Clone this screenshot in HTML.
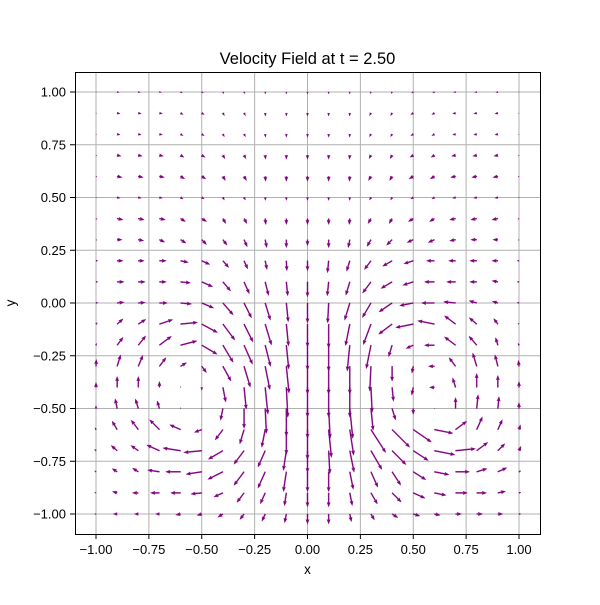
<!DOCTYPE html>
<html><head><meta charset="utf-8"><style>
body{margin:0;background:#fff;}
svg text{font-family:"Liberation Sans","DejaVu Sans",sans-serif;fill:#000;}
</style></head><body>
<svg id="chart" width="600" height="600" xmlns="http://www.w3.org/2000/svg">
<rect width="600" height="600" fill="#fff"/>
<text x="307.5" y="64" font-size="16.5" text-anchor="middle">Velocity Field at t = 2.50</text>
<g id="grid"></g>
<g id="arrows"></g>
<rect x="75.5" y="72.5" width="465" height="462" fill="none" stroke="#000" stroke-width="1"/>
<g id="ticks"></g>
<text x="307.5" y="574" font-size="13.5" text-anchor="middle">x</text>
<text x="15" y="303" font-size="13.5" text-anchor="middle" transform="rotate(-90 15 303)">y</text>
</svg>
<script>
// grid coordinates
const gridX = [-1,-0.9,-0.8,-0.7,-0.6,-0.5,-0.4,-0.3,-0.2,-0.1,0,0.1,0.2,0.3,0.4,0.5,0.6,0.7,0.8,0.9,1];
const gridY = [1,0.9,0.8,0.7,0.6,0.5,0.4,0.3,0.2,0.1,0,-0.1,-0.2,-0.3,-0.4,-0.5,-0.6,-0.7,-0.8,-0.9,-1];
const tickValues = [-1,-0.75,-0.5,-0.25,0,0.25,0.5,0.75,1];
const tickLabels = ["\u22121.00","\u22120.75","\u22120.50","\u22120.25","0.00","0.25","0.50","0.75","1.00"];
// velocity components (rows follow gridY, columns follow gridX); v positive = up
const velocityU = [
[0.4,2,2,2,1.7,1.7,1,1,0.2,0,0,0,-0.2,-1,-1,-1.7,-1.7,-2,-2,-2,-0.4],
[0.6,3,3,3,2.6,2.6,1.5,1.5,0.3,0,0,0,-0.3,-1.5,-1.5,-2.6,-2.6,-3,-3,-3,-0.6],
[0.6,3,3,3,2.6,2.6,1.5,1.5,0.3,0,0,0,-0.3,-1.5,-1.5,-2.6,-2.6,-3,-3,-3,-0.6],
[0.8,4,4,4,3.4,3.4,2,2,0.4,0,0,0,-0.4,-2,-2,-3.4,-3.4,-4,-4,-4,-0.8],
[1,5,5,5,4.2,4.2,2.5,2.5,0.5,0,0,0,-0.5,-2.5,-2.5,-4.2,-4.2,-5,-5,-5,-1],
[0.6,3,3,3,2.6,2.6,1.5,1.5,0.3,0,0,0,-0.3,-1.5,-1.5,-2.6,-2.6,-3,-3,-3,-0.6],
[1.2,6,6,6,5,5,3,3,0.6,0,0,0,-0.6,-3,-3,-5,-5,-6,-6,-6,-1.2],
[1,5,5.5,5.4,5.5,4.9,4.2,3.2,1.6,0,0,0,-1.6,-4,-5.6,-6.3,-6.3,-6,-6,-5,-1],
[2,6,6,7,7.8,8.2,5.9,3.7,1.8,0.5,0,-1.2,-3.2,-6.6,-9.5,-9.5,-8,-7,-7,-6,-2],
[2,7,7,7,10,11,7.8,5.3,3.4,1.4,0,-1.4,-4,-8.4,-11.2,-10.5,-10,-9,-7,-5.9,-2],
[2,7,7,8,11,12,10.4,7.5,5.2,1.9,0,-1,-5.2,-8.6,-13.2,-13.7,-13,-12,-7.7,-5.7,-2],
[1.5,6,7.6,13.4,17,15.9,12,8.9,6.3,2.2,0,0,-4.3,-7.7,-13.6,-17.6,-16.7,-11.2,-7.6,-4.2,-1],
[0.5,6,7.5,12,16.4,15.5,10.3,8.5,5.4,2.4,0,0,-2.6,-4.7,-3.5,-7.3,-10,-11.2,-7.8,-2.3,-1],
[0.3,3.5,4.6,6.6,6,4.8,8.2,6.3,4.7,2.7,0,0,0,-1.2,0,-1.4,-6,-6.6,-4,-2.9,-0.6],
[0,0,0,0,0,0,2.9,2.2,2.7,1.5,0,0,0,1.2,1.4,-1.6,-5,-2.9,0,0,0],
[0,-2,-2.9,-2.3,0,0,-2.4,0,1.2,0,0,1.5,3,2.2,3.5,0,0.5,0,1.4,1.2,0],
[-1,-5.1,-7.2,-9.9,-11,-7.5,-7.8,-4.3,-3.5,0,0,2.8,3.9,14.8,17.7,18.2,18.6,11.2,5.7,4.5,1.5],
[-1.5,-6.1,-7.5,-12.8,-17.8,-18,-14.7,-10.2,-7.3,-3,0,1.2,4.3,11,14,15.1,20.6,20,11.2,7.1,2],
[-1.5,-5.1,-5.9,-11.9,-15,-15.8,-15.2,-10.2,-7.3,-3,0,0,3.5,6.9,8.7,12.7,14.7,14,10.5,9.1,2],
[-1.5,-4.8,-6,-9,-10,-10.9,-9.1,-7.2,-4.9,-2,0,0,2.5,6.5,9.2,11.9,11.8,12,10,7.8,2],
[-1.5,-4,-4,-4,-4.9,-4.8,-5.1,-4.2,-3.3,-1.8,0,0,1.6,3.5,5.9,6.7,5.9,6,6,5,2]
];
const velocityV = [
[-0.2,-0.4,-0.4,-0.4,-1,-1,-1.7,-1.7,-2,-2,-2,-2,-2,-1.7,-1.7,-1,-1,-0.4,-0.4,-0.4,-0.2],
[-0.4,-0.6,-0.6,-0.6,-1.5,-1.5,-2.6,-2.6,-3,-3,-3,-3,-3,-2.6,-2.6,-1.5,-1.5,-0.6,-0.6,-0.6,-0.4],
[-0.4,-0.6,-0.6,-0.6,-1.5,-1.5,-2.6,-2.6,-3,-3,-3,-3,-3,-2.6,-2.6,-1.5,-1.5,-0.6,-0.6,-0.6,-0.4],
[-0.5,-0.8,-0.8,-0.8,-2,-2,-3.4,-3.4,-4,-4,-4,-4,-4,-3.4,-3.4,-2,-2,-0.8,-0.8,-0.8,-0.5],
[-0.6,-1,-1,-1,-2.5,-2.5,-4.2,-4.2,-5,-5,-5,-5,-5,-4.2,-4.2,-2.5,-2.5,-1,-1,-1,-0.6],
[-0.4,-0.6,-0.6,-0.6,-1.5,-1.5,-2.6,-2.6,-3,-3,-3,-3,-3,-2.6,-2.6,-1.5,-1.5,-0.6,-0.6,-0.6,-0.4],
[-0.7,-1.2,-1.2,-1.2,-3,-3,-5,-5,-6,-6,-6,-6,-6,-5,-5,-3,-3,-1.2,-1.2,-1.2,-0.7],
[-0.5,0,-1,-2.4,-3.5,-4.9,-5.6,-7.2,-8,-8,-6,-8,-8,-6.8,-5.6,-2.8,-2.8,-1.2,0,0,-0.5],
[0,0,0,0,-1.6,-3.7,-6.8,-8.2,-8.8,-10,-10,-12,-10.5,-8.8,-5.5,-3,0,0,0,0,0],
[0,0,0,0,-1,-4.9,-9.1,-11.9,-13.6,-14,-15,-14,-13.4,-11.2,-6.6,-3.3,0,0,0,1.2,0],
[0.5,0.8,0.5,0,-1,-5,-12,-15,-17.2,-18.9,-20,-20,-17.2,-14.6,-9,-2.7,0,1.2,2.3,1.7,0.5],
[1.5,5.3,4.8,4.5,1.7,-8.5,-16,-17.9,-21,-22,-23,-24,-21.6,-20.6,-10.2,-3.5,3.4,8.4,6.5,5.6,1],
[2,8,9.4,9,4.3,-9.1,-17.2,-19.1,-21.3,-23.9,-25,-26,-25.9,-23.5,-11.5,-3.3,0,8.4,9.1,7.7,2],
[7,11.5,11.1,8.8,3.7,-6.4,-14.9,-21,-23.5,-26.9,-28,-28,-28,-25,-15,-6.9,0,8.8,13.4,11.6,6],
[5,11,11,6,1,-3,-14.7,-21.9,-26.9,-30,-30,-30,-30,-25,-13.9,-7.8,0,9.6,14,12,6],
[3,9.8,9.6,7.7,1,-1,-11.8,-20,-25,-28,-30,-30,-29.9,-21.9,-11.5,-6,0,11,13.9,11.9,6],
[2,8.6,9.6,9.9,4.9,-2.8,-10.4,-14.4,-17.7,-25,-30,-27.9,-25.7,-23,-17.7,-12.5,-3.7,8.4,12.8,10,4.8],
[1.5,5.3,5.3,5.7,2.7,-1.8,-8.6,-13.6,-16.4,-19.8,-22,-23,-21.6,-18.9,-14,-9.8,-4.1,2,8.4,7.1,4.5],
[1,3.2,3.7,1.8,0,-2.4,-7.6,-13.6,-16.4,-19.8,-20,-20,-17.6,-15.5,-13.4,-8,-2.9,0,3.2,4.1,1],
[0.5,1.4,0,0,0,-1.1,-4.1,-9.6,-11,-12.8,-14,-14,-12.7,-11.2,-9.2,-5.3,-2.4,0,0,1.6,0.5],
[0,0,0,0,-1,-1.4,-3.2,-5.6,-7.3,-8.8,-10,-10,-7.8,-6,-3.7,-2,-1.2,0,0,0,0]
];

const NS = "http://www.w3.org/2000/svg";
const X0 = 96, X1 = 519, Y0 = 92, Y1 = 514;
function sx(v){ return X0 + (v + 1) / 2 * (X1 - X0); }
function sy(v){ return Y1 - (v + 1) / 2 * (Y1 - Y0); }
const arrowScale = 1; // px per velocity unit

const grid = document.getElementById('grid');
const ticks = document.getElementById('ticks');
tickValues.forEach((t, i) => {
  const gx = document.createElementNS(NS, 'line');
  gx.setAttribute('x1', sx(t)); gx.setAttribute('x2', sx(t));
  gx.setAttribute('y1', 72); gx.setAttribute('y2', 534);
  gx.setAttribute('stroke', '#b0b0b0'); gx.setAttribute('stroke-width', '1');
  
  
  grid.appendChild(gx);
  const gy = document.createElementNS(NS, 'line');
  gy.setAttribute('y1', sy(t)); gy.setAttribute('y2', sy(t));
  gy.setAttribute('x1', 75); gy.setAttribute('x2', 540);
  gy.setAttribute('stroke', '#b0b0b0'); gy.setAttribute('stroke-width', '1');
  
  
  grid.appendChild(gy);
  const tx = document.createElementNS(NS, 'line');
  tx.setAttribute('x1', sx(t)); tx.setAttribute('x2', sx(t));
  tx.setAttribute('y1', 534); tx.setAttribute('y2', 539);
  tx.setAttribute('stroke', '#000');
  
  
  ticks.appendChild(tx);
  const lx = document.createElementNS(NS, 'text');
  lx.setAttribute('x', sx(t)); lx.setAttribute('y', 554);
  lx.setAttribute('font-size', '13'); lx.setAttribute('text-anchor', 'middle');
  lx.textContent = tickLabels[i];
  
  
  ticks.appendChild(lx);
  const ty = document.createElementNS(NS, 'line');
  ty.setAttribute('x1', 70); ty.setAttribute('x2', 75);
  ty.setAttribute('y1', sy(t)); ty.setAttribute('y2', sy(t));
  ty.setAttribute('stroke', '#000');
  
  
  ticks.appendChild(ty);
  const ly = document.createElementNS(NS, 'text');
  ly.setAttribute('x', 66); ly.setAttribute('y', sy(t) + 4.5);
  ly.setAttribute('font-size', '13'); ly.setAttribute('text-anchor', 'end');
  ly.textContent = tickLabels[i];
  
  
  ticks.appendChild(ly);
});

const arrows = document.getElementById('arrows');
const W = 1.1, HL = 4.5, HW = 3.4, HAL = 4.0;
gridY.forEach((yv, r) => {
  gridX.forEach((xv, c) => {
    const u = velocityU[r][c] * arrowScale, v = velocityV[r][c] * arrowScale;
    const L = Math.hypot(u, v);
    if (L < 0.05) return;
    let k = 1;
    if (L < HL) k = L / HL;
    const w = W * k, hl = HL * k, hw = HW * k, hal = HAL * k;
    const pts = [[0, -w/2], [L - hal, -w/2], [L - hl, -hw/2], [L, 0], [L - hl, hw/2], [L - hal, w/2], [0, w/2]];
    const ang = Math.atan2(-v, u);
    const ca = Math.cos(ang), sa = Math.sin(ang);
    const ox = sx(xv), oy = sy(yv);
    const p = pts.map(([a, b]) => (ox + a*ca - b*sa).toFixed(2) + ',' + (oy + a*sa + b*ca).toFixed(2)).join(' ');
    const poly = document.createElementNS(NS, 'polygon');
    poly.setAttribute('points', p);
    poly.setAttribute('fill', '#800080');
    poly.setAttribute('stroke', '#800080');
    poly.setAttribute('stroke-width', '0.3');
    
    
    arrows.appendChild(poly);
  });
});
</script>
</body></html>
